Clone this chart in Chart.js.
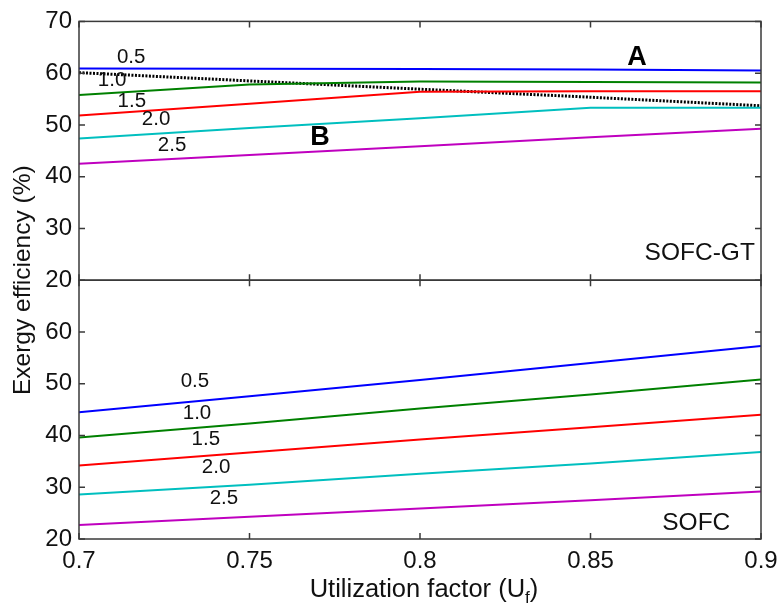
<!DOCTYPE html>
<html>
<head>
<meta charset="utf-8">
<script src="https://cdn.jsdelivr.net/npm/chart.js@4.4.1/dist/chart.umd.min.js"></script>
<style>
  html, body { margin: 0; padding: 0; background: #ffffff; }
  #wrap { width: 779px; height: 608px; position: relative; }
</style>
</head>
<body>
<div id="wrap"><canvas id="c" width="779" height="608"></canvas></div>
<script>
// Fuel utilization factor (x axis)
const uf = [0.70, 0.75, 0.80, 0.85, 0.90];
const xTicks = [0.70, 0.75, 0.80, 0.85, 0.90];
const yTicksTop = [20, 30, 40, 50, 60, 70];
const yTicksBottom = [20, 30, 40, 50, 60];
const ratioLabels = ['0.5', '1.0', '1.5', '2.0', '2.5'];

// SOFC-GT exergy efficiency (%)
const gt05 = [60.9, 60.85, 60.8, 60.7, 60.5];
const gt10 = [55.8, 57.8, 58.4, 58.3, 58.2];
const gt15 = [51.8, 54.1, 56.4, 56.5, 56.5];
const gt20 = [47.4, 49.4, 51.3, 53.3, 53.3];
const gt25 = [42.5, 44.2, 45.9, 47.6, 49.25];
const gtOptimum = [60.1, 58.5, 56.9, 55.35, 53.7];

// SOFC exergy efficiency (%)
const sofc05 = [44.5, 47.6, 50.7, 54.0, 57.3];
const sofc10 = [39.6, 42.3, 45.2, 47.9, 50.8];
const sofc15 = [34.2, 36.7, 39.2, 41.6, 44.0];
const sofc20 = [28.6, 30.5, 32.6, 34.6, 36.8];
const sofc25 = [22.7, 24.3, 25.9, 27.5, 29.2];

const colors = ['#0000ff', '#008000', '#ff0000', '#00bfbf', '#bf00bf'];
const FONT = '"Liberation Sans", Arial, Helvetica, sans-serif';

const pts = vals => uf.map((x, i) => ({ x: x, y: vals[i] }));
const line = (vals, color, axis) => ({
  data: pts(vals), yAxisID: axis, borderColor: color, borderWidth: 2,
  pointRadius: 0, tension: 0, fill: false
});

const datasets = [
  ...[gt05, gt10, gt15, gt20, gt25].map((v, i) => line(v, colors[i], 'yTop')),
  ...[sofc05, sofc10, sofc15, sofc20, sofc25].map((v, i) => line(v, colors[i], 'yBot')),
  Object.assign(line(gtOptimum, '#000000', 'yTop'), { borderWidth: 3, borderDash: [2, 1.5] })
];

// in-plot annotations, placed in data coordinates of each panel
const topNotes = [
  { t: ratioLabels[0], x: 0.7153, y: 63.0 },
  { t: ratioLabels[1], x: 0.7097, y: 58.6 },
  { t: ratioLabels[2], x: 0.7155, y: 54.5 },
  { t: ratioLabels[3], x: 0.7226, y: 51.05 },
  { t: ratioLabels[4], x: 0.7273, y: 46.0 }
];
const bottomNotes = [
  { t: ratioLabels[0], x: 0.7340, y: 50.5 },
  { t: ratioLabels[1], x: 0.7346, y: 44.3 },
  { t: ratioLabels[2], x: 0.7372, y: 39.3 },
  { t: ratioLabels[3], x: 0.7402, y: 33.8 },
  { t: ratioLabels[4], x: 0.7425, y: 27.9 }
];

const framePlugin = {
  id: 'frame',
  afterDatasetsDraw(chart) {
    const { ctx, chartArea } = chart;
    const { left, right } = chartArea;
    const xs = chart.scales.x;
    ctx.save();
    ctx.strokeStyle = '#3a3a3a';
    ctx.lineWidth = 1.5;
    ['yTop', 'yBot'].forEach(id => {
      const s = chart.scales[id];
      const top = s.top, bottom = s.bottom;
      ctx.strokeRect(left, top, right - left, bottom - top);
      ctx.beginPath();
      s.ticks.forEach(t => {
        const py = s.getPixelForValue(t.value);
        ctx.moveTo(left, py); ctx.lineTo(left + 6, py);
        ctx.moveTo(right, py); ctx.lineTo(right - 6, py);
      });
      xs.ticks.forEach(t => {
        const px = xs.getPixelForValue(t.value);
        ctx.moveTo(px, top); ctx.lineTo(px, top + 6);
        ctx.moveTo(px, bottom); ctx.lineTo(px, bottom - 6);
      });
      ctx.stroke();
    });
    ctx.restore();
  }
};

const textPlugin = {
  id: 'texts',
  afterDraw(chart) {
    const { ctx, chartArea } = chart;
    const xs = chart.scales.x, yt = chart.scales.yTop, yb = chart.scales.yBot;
    ctx.save();
    ctx.fillStyle = '#111111';
    ctx.textAlign = 'center';
    ctx.textBaseline = 'middle';
    ctx.font = '20.5px ' + FONT;
    topNotes.forEach(n => ctx.fillText(n.t, xs.getPixelForValue(n.x), yt.getPixelForValue(n.y)));
    bottomNotes.forEach(n => ctx.fillText(n.t, xs.getPixelForValue(n.x), yb.getPixelForValue(n.y)));

    ctx.fillStyle = '#000000';
    ctx.font = 'bold 27px ' + FONT;
    ctx.fillText('A', xs.getPixelForValue(0.8636), yt.getPixelForValue(63.0));
    ctx.fillText('B', xs.getPixelForValue(0.7707), yt.getPixelForValue(47.6));

    ctx.fillStyle = '#111111';
    ctx.font = '24.5px ' + FONT;
    ctx.textAlign = 'right';
    ctx.fillText('SOFC-GT', xs.getPixelForValue(0.8982), yt.getPixelForValue(25.3));
    ctx.fillText('SOFC', xs.getPixelForValue(0.8910), yb.getPixelForValue(23.1));

    // y axis title spanning both panels
    ctx.save();
    ctx.font = '24.5px ' + FONT;
    ctx.translate(23, (chartArea.top + chartArea.bottom) / 2);
    ctx.rotate(-Math.PI / 2);
    ctx.textAlign = 'center';
    ctx.fillText('Exergy efficiency (%)', 0, 0);
    ctx.restore();

    // x axis title with subscript
    const main = 'Utilization factor (U';
    ctx.font = '25.5px ' + FONT;
    const w1 = ctx.measureText(main).width;
    ctx.font = '17px ' + FONT;
    const w2 = ctx.measureText('f').width;
    ctx.font = '25.5px ' + FONT;
    const w3 = ctx.measureText(')').width;
    const cx = (chartArea.left + chartArea.right) / 2 + 4;
    let x0 = cx - (w1 + w2 + w3) / 2;
    const base = 597;
    ctx.textAlign = 'left';
    ctx.textBaseline = 'alphabetic';
    ctx.fillText(main, x0, base);
    ctx.font = '17px ' + FONT;
    ctx.fillText('f', x0 + w1, base + 6);
    ctx.font = '25.5px ' + FONT;
    ctx.fillText(')', x0 + w1 + w2, base);
    ctx.restore();
  }
};

const tickFont = { family: FONT, size: 24 };
const yScale = (ticks) => ({
  type: 'linear', position: 'left', stack: 'panels', stackWeight: 1,
  min: 20, max: 70,
  afterBuildTicks: s => { s.ticks = ticks.map(v => ({ value: v })); },
  grid: { display: false, drawTicks: false },
  border: { display: false },
  ticks: { font: tickFont, color: '#111111', padding: 7, autoSkip: false, callback: v => String(v) },
  afterFit: s => { s.width = 79; }
});

new Chart(document.getElementById('c'), {
  type: 'line',
  data: { datasets: datasets },
  options: {
    responsive: false,
    animation: false,
    layout: { padding: { left: 0, top: 19, right: 18, bottom: 0 } },
    plugins: { legend: { display: false }, tooltip: { enabled: false } },
    scales: {
      x: {
        type: 'linear', min: 0.7, max: 0.9,
        afterBuildTicks: s => { s.ticks = xTicks.map(v => ({ value: v })); },
        grid: { display: false, drawTicks: false },
        border: { display: false },
        ticks: { font: tickFont, color: '#111111', padding: 8, maxRotation: 0, autoSkip: false,
                 callback: v => String(+v.toFixed(2)) },
        afterFit: s => { s.height = 69; s.paddingLeft = 0; s.paddingRight = 18; }
      },
      yBot: yScale(yTicksBottom),
      yTop: yScale(yTicksTop)
    }
  },
  plugins: [framePlugin, textPlugin]
});
</script>
</body>
</html>
